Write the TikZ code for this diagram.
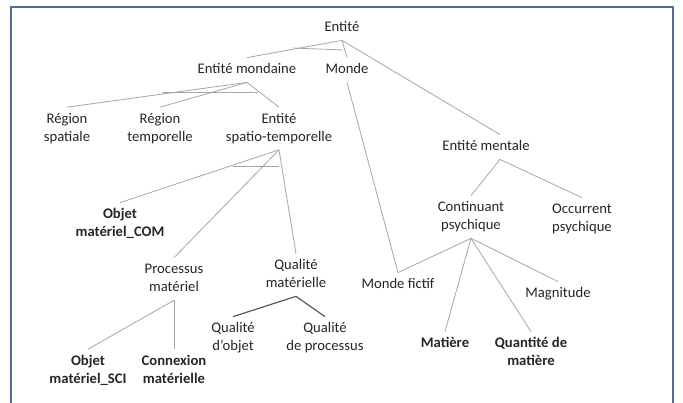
\documentclass[tikz,border=0pt]{standalone}
\usepackage{fontspec}
\setmainfont{Carlito}
\definecolor{framecol}{HTML}{4F6A9A}
\definecolor{linkcol}{HTML}{A6A6A6}
\definecolor{darklink}{HTML}{595959}
\definecolor{textcol}{HTML}{262626}
\begin{document}
\begin{tikzpicture}[x=0.75pt,y=-0.75pt,
        concept/.style={text=textcol,align=center,inner sep=0pt,outer sep=2.6pt,font=\fontsize{11}{13.4}\selectfont},
        leaf/.style={concept,font=\fontsize{11}{13.4}\selectfont\bfseries},
        link/.style={draw=linkcol,line width=0.6pt},
        darkbar/.style={draw=darklink,line width=0.9pt}]
        \useasboundingbox (0,0) rectangle (683,403);
        \draw[framecol,line width=1.1pt] (11,403) -- (11,7) -- (673,7) -- (673,403);
        % top levels
        \node[concept] (ent) at (342,28) {\strut Entité};
        \node[concept] (mond) at (247,70) {\strut Entité mondaine};
        \node[concept] (monde) at (347,70) {\strut Monde};
        \node[concept] (regsp) at (67,128.5) {\strut Région\\spatiale\strut};
        \node[concept] (regtp) at (160,128.5) {\strut Région\\temporelle\strut};
        \node[concept] (spt) at (279,128.5) {\strut Entité\\spatio-temporelle\strut};
        \node[leaf] (objcom) at (120,224) {\strut Objet\\matériel\_COM\strut};
        \node[concept] (proc) at (174,279) {\strut Processus\\matériel\strut};
        \node[concept] (qmat) at (296,275) {\strut Qualité\\matérielle\strut};
        \node[leaf] (objsci) at (88,370.5) {\strut Objet\\matériel\_SCI\strut};
        \node[leaf] (cnx) at (174,370.5) {\strut Connexion\\matérielle\strut};
        \node[concept] (qobj) at (233,338) {\strut Qualité\\d’objet\strut};
        \node[concept] (qproc) at (325,338) {\strut Qualité\\de processus\strut};
        % mental side
        \node[concept] (ment) at (486,147) {\strut Entité mentale};
        \node[concept] (cont) at (471,217) {\strut Continuant\\psychique\strut};
        \node[concept] (occ) at (582,219) {\strut Occurrent\\psychique\strut};
        \node[concept] (fict) at (398,285) {\strut Monde fictif};
        \node[concept] (magn) at (558,294) {\strut Magnitude};
        \node[leaf] (mat) at (445,344) {\strut Matière};
        \node[leaf] (qte) at (531,353) {\strut Quantité de\\matière\strut};

        \draw[link] (ent.south) -- (mond.north);
        \draw[link] (ent.south) -- (monde.north);
        \draw[link] (ent.south) -- ([xshift=10.5pt]ment.north);
        \draw[link] (293,48) -- (343,50);
        \draw[link] (mond.south) -- (regsp.north);
        \draw[link] (mond.south) -- (regtp.north);
        \draw[link] (mond.south) -- (spt.north);
        \draw[link] (162,92) -- (258,92);
        \draw[link] (spt.south) -- (objcom.north);
        \draw[link] (spt.south) -- (proc.north);
        \draw[link] (spt.south) -- (qmat.north);
        \draw[link] (233,166) -- (279,166);
        \draw[link] (proc.south) -- (objsci.north);
        \draw[link] (proc.south) -- (cnx.north);
        \draw[darkbar] (qmat.south) -- (qobj.north);
        \draw[darkbar] (qmat.south) -- (qproc.north);
        \draw[link] (monde.south) -- (fict.north);
        \draw[link] ([xshift=10.5pt]ment.south) -- (cont.north);
        \draw[link] ([xshift=10.5pt]ment.south) -- (occ.north);
        \draw[link] (cont.south) -- (fict.north);
        \draw[link] (cont.south) -- (mat.north);
        \draw[link] (cont.south) -- (qte.north);
        \draw[link] (cont.south) -- (magn.north);
\end{tikzpicture}
\end{document}
